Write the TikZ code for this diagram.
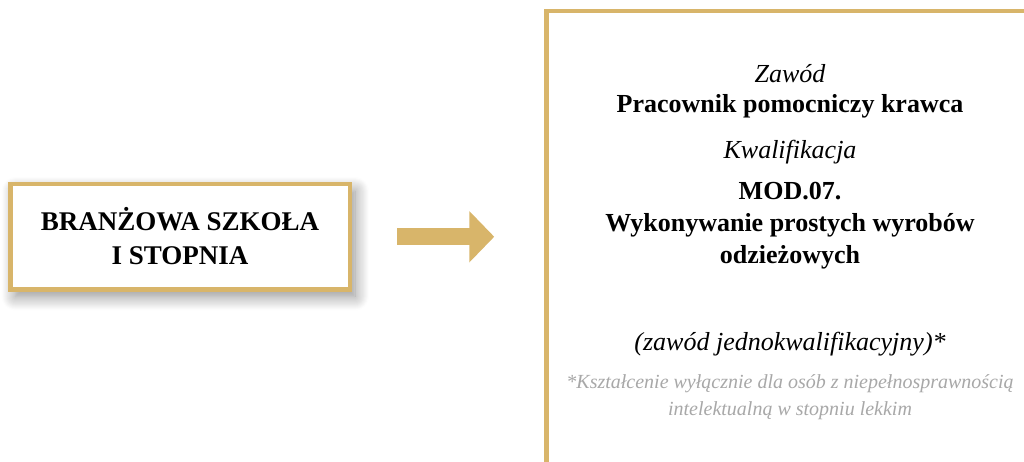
\documentclass[tikz,border=0pt]{standalone}
\usepackage{fontspec}
\setmainfont{Liberation Serif}
\usetikzlibrary{positioning,arrows.meta,shadows.blur}
\definecolor{gold}{RGB}{216,181,106}
\definecolor{notegray}{RGB}{168,168,168}

\begin{document}
\begin{tikzpicture}[%
    x=1pt,
    y=-1pt,
    frame/.style={draw=gold, line width=4.5pt, fill=white, inner sep=0pt},
    bold/.style={font=\fontsize{26}{32}\selectfont\bfseries, align=center, anchor=base},
    ital/.style={font=\fontsize{26}{32}\selectfont\itshape, anchor=base},
    note/.style={font=\fontsize{20}{27}\selectfont\itshape, text=notegray, align=center, anchor=base}
  ]
  \clip (0,0) rectangle (1024,461);

  \node[frame, minimum width=339.5pt, minimum height=105.5pt,
    blur shadow={shadow xshift=5pt, shadow yshift=-7pt, shadow blur radius=14pt,
      shadow blur steps=14, shadow opacity=45}]
    (school) at (180.25,236.75) {};
  \node[bold, font=\fontsize{27}{34}\selectfont\bfseries] (schoolname) at (180,264) {BRANŻOWA SZKOŁA\\I STOPNIA};

  \node[frame, anchor=north west, minimum width=560pt, minimum height=500pt] (job) at (544,8.5) {};

  \node[ital] (occlabel) at (790,82) {Zawód};
  \node[bold] (occ) at (790,112) {Pracownik pomocniczy krawca};
  \node[ital] (quallabel) at (790,158) {Kwalifikacja};
  \node[bold] (qual) at (790,263)
    {MOD.07.\\Wykonywanie prostych wyrobów\\odzieżowych};
  \node[ital] (single) at (790,350) {(zawód jednokwalifikacyjny)*};
  \node[note] (remark) at (790,415)
    {*Kształcenie wyłącznie dla osób z niepełnosprawnością\\intelektualną w stopniu lekkim};

  \draw[gold, line width=17pt, shorten <=44.75pt, shorten >=49.75pt,
    -{Triangle[length=25pt, width=50pt]}] (school.east) -- (school.east -| job.west);

\end{tikzpicture}
\end{document}
